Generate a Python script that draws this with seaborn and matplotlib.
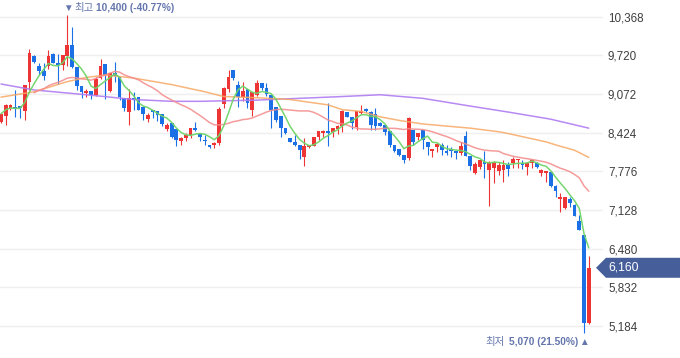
import numpy as np
import pandas as pd
import matplotlib
matplotlib.use("Agg")
import matplotlib.pyplot as plt
import matplotlib.transforms as mtransforms
from matplotlib.patches import Polygon
import seaborn as sns

# daily candles (KRW)
opens = [8600, 8710, 8840, 8860, 8870, 8790, 9270, 9710, 9550, 9450,
         9540, 9750, 9600, 9560, 9710, 9890, 9530, 9210, 9090, 9130,
         9060, 9340, 9570, 9130, 9420, 9360, 9010, 8770, 9010, 9020,
         8860, 8650, 8800, 8790, 8730, 8480, 8580, 8490, 8280, 8340,
         8390, 8500, 8410, 8310, 8220, 8210, 8250, 8910, 9160, 9470,
         9220, 9030, 9160, 8800, 9060, 9250, 9170, 9060, 8850, 8700,
         8500, 8330, 8270, 8220, 8010, 8180, 8200, 8360, 8420, 8450,
         8440, 8490, 8530, 8770, 8690, 8520, 8760, 8820, 8770, 8740,
         8580, 8550, 8460, 8220, 8150, 8050, 8000, 8470, 8360, 8470,
         8270, 8120, 8190, 8220, 8120, 8150, 8120, 8080, 8370, 8030,
         7750, 7850, 7940, 7800, 7840, 7780, 7800, 7880, 7910, 7970,
         7920, 7850, 7910, 7910, 7750, 7750, 7760, 7530, 7320, 7160,
         7320, 7210, 6950, 6710, 5230]
highs = [8750, 8900, 8900, 9140, 8870, 9220, 9830, 9730, 9590, 9600,
         9810, 9760, 9750, 9730, 10400, 10190, 9530, 9210, 9150, 9130,
         9360, 9660, 9580, 9420, 9610, 9360, 9010, 9160, 9110, 9020,
         8860, 8750, 8800, 8790, 8730, 8590, 8580, 8490, 8350, 8420,
         8500, 8600, 8410, 8390, 8220, 8270, 8850, 9190, 9480, 9470,
         9290, 9280, 9160, 9110, 9310, 9250, 9250, 9060, 8850, 8700,
         8500, 8330, 8390, 8220, 8340, 8220, 8360, 8450, 8470, 8920,
         8500, 8550, 8800, 8770, 8690, 8780, 8890, 8830, 8790, 8840,
         8600, 8550, 8460, 8220, 8150, 8050, 8690, 8470, 8420, 8470,
         8270, 8150, 8250, 8250, 8220, 8190, 8120, 8270, 8460, 8030,
         7940, 7970, 8120, 7950, 7950, 7940, 7970, 7930, 8020, 7990,
         7970, 7930, 7980, 7930, 7820, 7780, 7770, 7550, 7410, 7350,
         7350, 7230, 7040, 6710, 6350]
lows = [8590, 8560, 8800, 8690, 8670, 8640, 9140, 9590, 9390, 9300,
        9490, 9590, 9240, 9470, 9540, 9510, 9140, 9010, 9020, 8990,
        9040, 9320, 8990, 9110, 9270, 8970, 8790, 8550, 8800, 8800,
        8640, 8610, 8670, 8620, 8540, 8450, 8330, 8200, 8220, 8280,
        8340, 8450, 8290, 8220, 8170, 8160, 8220, 8840, 9110, 9310,
        8850, 8950, 8840, 8700, 9040, 9140, 9040, 8500, 8610, 8350,
        8410, 8270, 8200, 7980, 7870, 8170, 8200, 8300, 8360, 8200,
        8360, 8410, 8440, 8680, 8490, 8470, 8740, 8770, 8470, 8470,
        8530, 8390, 8190, 8100, 8030, 7920, 7970, 8220, 8300, 8150,
        8050, 8010, 8100, 8050, 8050, 8020, 7980, 8050, 8030, 7800,
        7740, 7820, 7660, 7190, 7580, 7720, 7590, 7690, 7830, 7840,
        7810, 7720, 7830, 7840, 7690, 7600, 7520, 7350, 7100, 7140,
        7180, 7020, 6790, 5070, 5220]
closes = [8740, 8880, 8890, 8820, 8830, 9220, 9760, 9610, 9460, 9380,
          9710, 9600, 9560, 9730, 9890, 9520, 9210, 9100, 9130, 9060,
          9320, 9550, 9390, 9420, 9380, 9020, 8840, 9000, 8970, 8810,
          8730, 8720, 8770, 8720, 8570, 8560, 8360, 8300, 8340, 8390,
          8500, 8470, 8350, 8280, 8180, 8250, 8820, 9170, 9360, 9340,
          9020, 9130, 8920, 9100, 9250, 9170, 9070, 8800, 8640, 8510,
          8420, 8270, 8220, 8130, 8200, 8210, 8350, 8450, 8450, 8420,
          8500, 8540, 8780, 8690, 8580, 8780, 8790, 8790, 8550, 8540,
          8540, 8440, 8220, 8110, 8050, 7960, 8670, 8270, 8420, 8300,
          8180, 8150, 8230, 8130, 8090, 8120, 8090, 8200, 8030, 7870,
          7900, 7970, 7900, 7940, 7940, 7880, 7880, 7810, 7990, 7990,
          7890, 7910, 7960, 7850, 7800, 7780, 7530, 7440, 7350, 7350,
          7250, 7030, 6790, 5230, 6160]

# long moving averages (candle index -> value)
ma60_idx = [0, 7, 14, 18, 22, 28, 36, 43, 47, 54, 61, 69, 72, 76, 80,
            84, 89, 99, 105, 107, 115, 117, 121, 124]
ma60_val = [9020, 9110, 9280, 9350, 9390, 9340, 9230, 9110, 9030, 9010,
            8980, 8890, 8810, 8780, 8690, 8630, 8570, 8500, 8440, 8410,
            8270, 8220, 8130, 8010]
ma120_idx = [0, 7, 18, 28, 36, 42, 54, 63, 72, 80, 89, 99, 107, 116, 124]
ma120_val = [9240, 9140, 9060, 8980, 8950, 8950, 8970, 9000, 9030, 9060,
             9000, 8870, 8770, 8650, 8500]

yticks = [10368, 9720, 9072, 8424, 7776, 7128, 6480, 5832, 5184]

up_color = "#ee3536"
down_color = "#1a70e4"

df = pd.DataFrame({"open": opens, "high": highs, "low": lows, "close": closes})
df["day"] = np.arange(len(df))
df["ma5"] = df["close"].rolling(5, min_periods=1).mean()
df["ma20"] = df["close"].rolling(20, min_periods=8).mean()

sns.set_style("white")
plt.rcParams["font.family"] = ["Liberation Sans", "Noto Sans CJK KR", "DejaVu Sans"]

fig = plt.figure(figsize=(6.8, 3.58), dpi=100)
ax = fig.add_axes([0, 0, 603 / 680, 1])

# candles
up = df["close"] >= df["open"]
colors = np.where(up, up_color, down_color)
ax.vlines(df["day"], df["low"], df["high"], colors=colors, lw=0.8, zorder=2)
body_bottom = df[["open", "close"]].min(axis=1)
body_height = (df["close"] - df["open"]).abs().clip(lower=17)
ax.bar(df["day"], body_height, bottom=body_bottom, width=0.8,
       color=colors, linewidth=0, zorder=3)

# moving averages
sns.lineplot(x=ma120_idx, y=ma120_val, ax=ax, color="#b07cf2", lw=1.1, alpha=0.9, zorder=4)
sns.lineplot(x=ma60_idx, y=ma60_val, ax=ax, color="#f7a865", lw=1.1, alpha=0.85, zorder=4)
ma20 = df.dropna(subset=["ma20"])
sns.lineplot(x=ma20["day"], y=ma20["ma20"], ax=ax, color="#f48a8a", lw=1.1, alpha=0.85, zorder=4)
sns.lineplot(x=df["day"], y=df["ma5"], ax=ax, color="#6fd468", lw=1.1, alpha=0.95, zorder=5)

ax.set_xlim(-0.21, 127.0)
ax.set_ylim(4648, 10648)
ax.set_xlabel("")
ax.set_ylabel("")

ax.yaxis.tick_right()
ax.set_yticks(yticks)
ax.set_yticklabels([f"{v:,}" for v in yticks])
ax.tick_params(axis="y", length=0, pad=3.6, labelsize=8.4, labelcolor="#3f3f3f")
ax.tick_params(axis="x", bottom=False, labelbottom=False)
ax.grid(axis="y", color="#efefef", lw=1.0)
ax.grid(axis="x", visible=False)
ax.set_axisbelow(True)
for s in ax.spines.values():
    s.set_visible(False)

# high / low marks
note_color = "#6476ad"
hi = int(np.argmax(highs))
ax.annotate("▼", xy=(hi, highs[hi]), xytext=(0, 4.9), textcoords="offset points",
            ha="center", va="center", fontsize=7, color=note_color, annotation_clip=False)
ax.annotate("최고", xy=(hi, highs[hi]), xytext=(5.0, 4.9), textcoords="offset points",
            ha="left", va="center", fontsize=7.5, color=note_color, annotation_clip=False)
ax.annotate(f"{highs[hi]:,} ({(closes[-1] / highs[hi] - 1) * 100:.2f}%)",
            xy=(hi, highs[hi]), xytext=(20.5, 4.9), textcoords="offset points",
            ha="left", va="center", fontsize=7.3, fontweight="bold",
            color=note_color, annotation_clip=False)

lo = int(np.argmin(lows))
ax.annotate("▲", xy=(lo, lows[lo]), xytext=(0, -6.8), textcoords="offset points",
            ha="center", va="center", fontsize=7, color=note_color, annotation_clip=False)
ax.annotate(f"{lows[lo]:,} ({(closes[-1] / lows[lo] - 1) * 100:.2f}%)",
            xy=(lo, lows[lo]), xytext=(-4.1, -6.8), textcoords="offset points",
            ha="right", va="center", fontsize=7.3, fontweight="bold",
            color=note_color, annotation_clip=False)
ax.annotate("최저", xy=(lo, lows[lo]), xytext=(-57.0, -6.8), textcoords="offset points",
            ha="right", va="center", fontsize=7.5, color=note_color, annotation_clip=False)

# current price tag on the right
trans = mtransforms.blended_transform_factory(fig.transFigure, ax.transData)
last = closes[-1]
half = 10 * 16.76
tag = Polygon([(596 / 680, last), (606 / 680, last + half), (1.0, last + half),
               (1.0, last - half), (606 / 680, last - half)],
              closed=True, transform=trans, facecolor="#465f9b", edgecolor="none",
              clip_on=False, zorder=6)
ax.add_patch(tag)
ax.text(608 / 680, last, f"{last:,}", transform=trans, ha="left", va="center",
        fontsize=8.8, color="white", zorder=7, clip_on=False)

fig.savefig("out.png", dpi=100)
